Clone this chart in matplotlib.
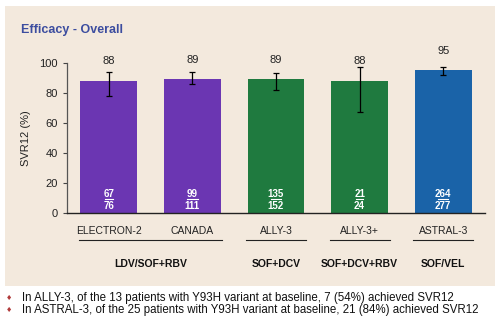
import matplotlib
matplotlib.use("Agg")
import matplotlib.pyplot as plt
from matplotlib.patches import Rectangle

plt.rcParams["font.family"] = ["Liberation Sans", "DejaVu Sans"]

# ── data ──────────────────────────────────────────────────────────────
studies = ["ELECTRON-2", "CANADA", "ALLY-3", "ALLY-3+", "ASTRAL-3"]
svr12 = [88, 89, 89, 88, 95]
ci_low = [78, 86, 82, 67, 92]
ci_high = [94, 94, 93, 97, 97]
responders = [67, 99, 135, 21, 264]
patients = [76, 111, 152, 24, 277]
bar_colors = ["#6b36b2", "#6b36b2", "#1f7a3f", "#1f7a3f", "#1a63a8"]

regimens = ["LDV/SOF+RBV", "SOF+DCV", "SOF+DCV+RBV", "SOF/VEL"]
regimen_first = [0, 2, 3, 4]
regimen_last = [1, 2, 3, 4]

footnotes = [
    "In ALLY-3, of the 13 patients with Y93H variant at baseline, 7 (54%) achieved SVR12",
    "In ASTRAL-3, of the 25 patients with Y93H variant at baseline, 21 (84%) achieved SVR12",
]

# ── figure ────────────────────────────────────────────────────────────
fig = plt.figure(figsize=(5.0, 3.35), dpi=100)
fig.patch.set_facecolor("white")
fig.patches.append(Rectangle((5 / 500, 1 - 286 / 335), 490 / 500, 280 / 335,
                             transform=fig.transFigure, facecolor="#f3e9dd",
                             edgecolor="none", zorder=-1))

fig.text(21 / 500, 1 - 30 / 335, "Efficacy - Overall", color="#3c4d9f",
         fontsize=9, fontweight="bold", va="center", ha="left")

ax = fig.add_axes([67 / 500, 1 - 213.3 / 335, 418 / 500, 150.6 / 335])
ax.set_facecolor("none")
ax.set_zorder(1)

x = list(range(len(studies)))
width = 0.68
ax.bar(x, svr12, width=width, color=bar_colors, edgecolor="none", zorder=2)

yerr = [[v - lo for v, lo in zip(svr12, ci_low)],
        [hi - v for v, hi in zip(svr12, ci_high)]]
ax.errorbar(x, svr12, yerr=yerr, fmt="none", ecolor="black", elinewidth=0.9,
            capsize=2.2, capthick=0.9, zorder=3)

for xi, v in zip(x, svr12):
    ax.text(xi, v + 13, str(v), ha="center", va="center", fontsize=8,
            color="#222222")

# responders / patients written as a fraction inside each bar
for xi, num, den in zip(x, responders, patients):
    ax.text(xi, 12.9, str(num), ha="center", va="center", fontsize=7,
            color="white", fontweight="bold", zorder=4)
    ax.text(xi, 5.0, str(den), ha="center", va="center", fontsize=7,
            color="white", fontweight="bold", zorder=4)
    half = 0.017 * max(len(str(num)), len(str(den))) + 0.012
    ax.plot([xi - half, xi + half], [9.3, 9.3], color="white", lw=0.8, zorder=4)

ax.set_xlim(-0.5, 4.5)
ax.set_ylim(0, 100)
ax.set_yticks([0, 20, 40, 60, 80, 100])
ax.set_xticks(x)
ax.set_xticklabels(studies)
ax.tick_params(axis="x", length=0, pad=9, labelsize=7.5, labelcolor="#222222")
ax.tick_params(axis="y", length=3, width=0.8, labelsize=8, labelcolor="#222222",
               color="#444444")
ax.set_ylabel("SVR12 (%)", fontsize=8, color="#222222", labelpad=6)

for side in ["top", "right"]:
    ax.spines[side].set_visible(False)
ax.spines["left"].set_color("#555555")
ax.spines["left"].set_linewidth(0.9)
ax.spines["bottom"].set_color("#222222")
ax.spines["bottom"].set_linewidth(1.0)

# regimen grouping below the study names
trans = ax.get_xaxis_transform()
for name, first, last in zip(regimens, regimen_first, regimen_last):
    ax.plot([first - width / 2 - 0.02, last + width / 2 + 0.02], [-0.177, -0.177],
            color="#222222", lw=0.8, transform=trans, clip_on=False)
    ax.text((first + last) / 2, -0.337, name, transform=trans, ha="center",
            va="center", fontsize=7.5, fontweight="bold", color="#111111")

# footnotes
for i, note in enumerate(footnotes):
    y = 1 - (298 + 12.5 * i) / 335
    fig.text(9 / 500, y, "\u2666", color="#b03a3a", fontsize=5, va="center",
             ha="center", family="DejaVu Sans")
    fig.text(22 / 500, y, note, color="#111111", fontsize=8.3, va="center",
             ha="left")

fig.savefig("out.png", dpi=100)
